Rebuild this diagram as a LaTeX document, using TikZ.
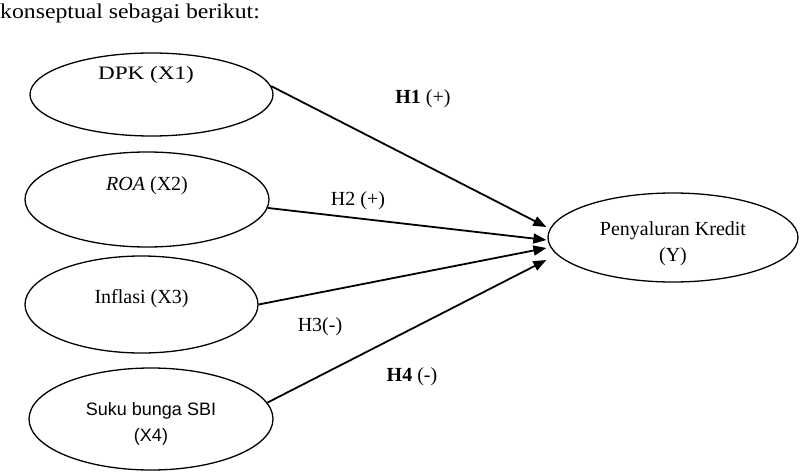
\documentclass[tikz,border=0pt]{standalone}
\usepackage{fontspec}
\usepackage{graphicx}
\setmainfont{Liberation Serif}
\newfontfamily\arialf{Liberation Sans}
\usetikzlibrary{shapes.geometric,arrows.meta,calc}
\tikzset{
  oval/.style={draw, ellipse, line width=1.3pt, inner sep=0pt},
  txt/.style={anchor=base, inner sep=0pt, font=\fontsize{20}{24}\selectfont},
  link/.style={line width=1.8pt, -{Triangle[length=13pt,width=10pt]}}
}
\begin{document}
\begin{tikzpicture}[x=1pt,y=-1pt]
\useasboundingbox (0,0) rectangle (800,471);
\node[anchor=base west, inner sep=0pt, font=\fontsize{21}{25}\selectfont] (title) at (0,18.3) {\scalebox{1.13}[1]{konseptual sebagai berikut:}};

\node[oval, minimum width=243pt, minimum height=83pt] (dpk) at (151.5,94.5) {};
\node[oval, minimum width=244pt, minimum height=95pt] (roa) at (147,199.5) {};
\node[oval, minimum width=233pt, minimum height=97pt] (inf) at (141.5,304.5) {};
\node[oval, minimum width=244pt, minimum height=102pt] (sbi) at (151,419) {};
\node[oval, minimum width=250pt, minimum height=89pt] (yy) at (673,237.5) {};

\node[txt, font=\fontsize{19}{23}\selectfont] (dpkt) at (146,79.3) {\scalebox{1.22}[1]{DPK (X1)}};
\node[txt] (roat) at (147,190.7) {\textit{ROA} (X2)};
\node[txt] (inft) at (141.5,303.3) {Inflasi (X3)};
\node[txt, font=\arialf\fontsize{18}{22}\selectfont] (sbit1) at (151,415) {Suku bunga SBI};
\node[txt, font=\arialf\fontsize{18}{22}\selectfont] (sbit2) at (151,441.7) {(X4)};
\node[txt] (yt1) at (673,235) {Penyaluran Kredit};
\node[txt] (yt2) at (673,261.7) {(Y)};

\coordinate (t1) at ($(yy.west)+(-1,-10.5)$);
\coordinate (t2) at ($(yy.west)+(-1,2.5)$);
\coordinate (t3) at ($(yy.west)+(-1,10.5)$);
\coordinate (t4) at ($(yy.west)+(-1,22.5)$);

\draw[link] (dpk.4) -- (t1);
\draw[link] (roa.-4) -- (t2);
\draw[link] (inf.east) -- (t3);
\draw[link] (sbi.8) -- (t4);

\node[txt] (h1) at (423,103.3) {\textbf{H1} (+)};
\node[txt] (h2) at (358,205) {H2 (+)};
\node[txt] (h3) at (320,331) {H3(-)};
\node[txt] (h4) at (412,381.7) {\textbf{H4} (-)};
\end{tikzpicture}
\end{document}
